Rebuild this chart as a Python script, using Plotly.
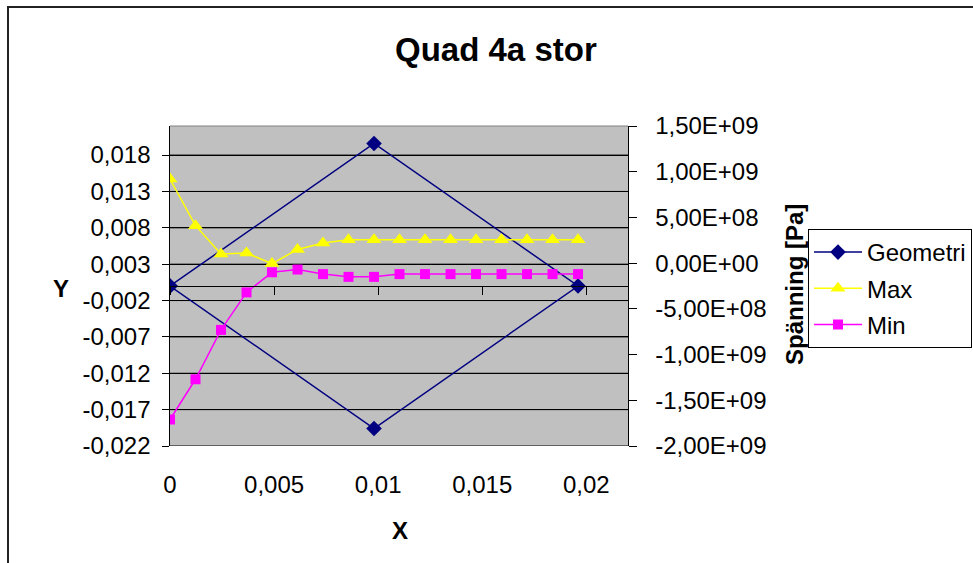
import plotly.graph_objects as go

# Geometry outline of the quad element (X, Y in m)
geo_x = [0, 0.0098, 0.0196, 0.0098, 0]
geo_y = [0, 0.0196, 0, -0.0196, 0]

# Stress along the edge (Pa)
stress_x = [0, 0.001225, 0.00245, 0.003675, 0.0049, 0.006125, 0.00735, 0.008575,
            0.0098, 0.011025, 0.01225, 0.013475, 0.0147, 0.015925, 0.01715, 0.018375, 0.0196]
max_pa = [9.2e8, 4.1e8, 1.0e8, 1.1e8, -0.05e8, 1.5e8, 2.2e8, 2.55e8,
          2.55e8, 2.55e8, 2.55e8, 2.55e8, 2.55e8, 2.55e8, 2.55e8, 2.55e8, 2.55e8]
min_pa = [-1.71e9, -1.27e9, -0.73e9, -0.32e9, -0.10e9, -0.07e9, -0.12e9, -0.15e9,
          -0.15e9, -0.12e9, -0.12e9, -0.12e9, -0.12e9, -0.12e9, -0.12e9, -0.12e9, -0.12e9]

# Axis ticks
x_ticks = [0, 0.005, 0.01, 0.015, 0.02]
x_ticktext = ["0", "0,005", "0,01", "0,015", "0,02"]
y_ticks = [-0.022, -0.017, -0.012, -0.007, -0.002, 0.003, 0.008, 0.013, 0.018]
y_ticktext = ["-0,022", "-0,017", "-0,012", "-0,007", "-0,002", "0,003", "0,008", "0,013", "0,018"]
y2_ticks = [-2e9, -1.5e9, -1e9, -5e8, 0, 5e8, 1e9, 1.5e9]
y2_ticktext = ["-2,00E+09", "-1,50E+09", "-1,00E+09", "-5,00E+08", "0,00E+00",
               "5,00E+08", "1,00E+09", "1,50E+09"]

FONT = "Liberation Sans, Arial, sans-serif"
W, H = 973, 563
L, R, T, B = 170, 628, 126, 446
NBSP = "\u00a0"


def px(x):
    return (x - L) / (R - L)


def py(y):
    return (B - y) / (B - T)


fig = go.Figure()
fig.add_trace(go.Scatter(
    x=geo_x, y=geo_y, name="Geometri", mode="lines+markers",
    line=dict(color="#000080", width=1.5),
    marker=dict(symbol="diamond", size=12, color="#000080"),
    xaxis="x", yaxis="y", legendgroup="g1"))
fig.add_trace(go.Scatter(
    x=stress_x, y=max_pa, name="Max", mode="lines+markers",
    line=dict(color="#FFFF00", width=1.5),
    marker=dict(symbol="triangle-up", size=13, color="#FFFF00"),
    xaxis="x2", yaxis="y2", legendgroup="g2"))
fig.add_trace(go.Scatter(
    x=stress_x, y=min_pa, name="Min", mode="lines+markers",
    line=dict(color="#FF00FF", width=1.5),
    marker=dict(symbol="square", size=10, color="#FF00FF"),
    xaxis="x2", yaxis="y2", legendgroup="g3"))

xr = [0, 0.022]
y2r = [-2e9, 1.5e9]
fig.update_layout(
    width=W, height=H,
    margin=dict(l=L, r=W - R, t=T, b=H - B, autoexpand=False),
    paper_bgcolor="white", plot_bgcolor="#C0C0C0",
    font=dict(family=FONT, size=24, color="black"),
    showlegend=True,
    legend=dict(x=px(808), y=py(229), xanchor="left", yanchor="top",
                bgcolor="white", bordercolor="black", borderwidth=1,
                font=dict(size=24), itemwidth=48, tracegroupgap=2),
    xaxis=dict(range=xr, tickvals=x_ticks, ticktext=x_ticktext,
               ticks="outside", ticklen=17, tickcolor="rgba(0,0,0,0)",
               showline=False, showgrid=False, zeroline=False,
               tickfont=dict(size=24)),
    xaxis2=dict(range=xr, overlaying="x", anchor="free", position=0.5,
                tickvals=x_ticks, showticklabels=False, ticks="outside",
                ticklen=8, tickcolor="black", showline=True, linecolor="black",
                linewidth=1, showgrid=False, zeroline=False),
    yaxis=dict(range=[-0.022, 0.022], tickvals=y_ticks,
               ticktext=[t + NBSP for t in y_ticktext],
               ticks="outside", ticklen=7, tickcolor="black",
               showline=True, linecolor="black", linewidth=1,
               showgrid=True, gridcolor="black", gridwidth=1, zeroline=False,
               tickfont=dict(size=24)),
    yaxis2=dict(range=y2r, tickvals=y2_ticks,
                ticktext=[NBSP + NBSP + t for t in y2_ticktext],
                overlaying="y", side="right", anchor="x2",
                ticks="outside", ticklen=8, tickcolor="black",
                showline=True, linecolor="black", linewidth=1,
                showgrid=False, zeroline=False, tickfont=dict(size=24)),
)

# Major gridlines of the left axis, one per tick value
for v in y_ticks:
    fig.add_shape(type="line", xref="paper", yref="y", x0=0, x1=1, y0=v, y1=v,
                  line=dict(color="black", width=1), layer="below")

# Plot-area top border and outer chart frame
fig.add_shape(type="line", xref="paper", yref="paper", x0=0, x1=1, y0=1, y1=1,
              line=dict(color="#808080", width=1))
fig.add_shape(type="rect", xref="paper", yref="paper",
              x0=px(8), y0=py(600), x1=px(1000), y1=py(7),
              line=dict(color="#222222", width=2), layer="below")

# Titles
fig.add_annotation(text="<b>Quad 4a stor</b>", x=px(496), y=py(50), xref="paper", yref="paper",
                   showarrow=False, font=dict(size=33), xanchor="center", yanchor="middle")
fig.add_annotation(text="<b>X</b>", x=px(400), y=py(530), xref="paper", yref="paper",
                   showarrow=False, font=dict(size=24), xanchor="center", yanchor="middle")
fig.add_annotation(text="<b>Y</b>", x=px(61), y=py(288), xref="paper", yref="paper",
                   showarrow=False, font=dict(size=24), xanchor="center", yanchor="middle")
fig.add_annotation(text="<b>Spänning [Pa]</b>", x=px(794), y=py(285), xref="paper", yref="paper",
                   showarrow=False, font=dict(size=24), textangle=-90,
                   xanchor="center", yanchor="middle")

fig.write_html("out.html")
